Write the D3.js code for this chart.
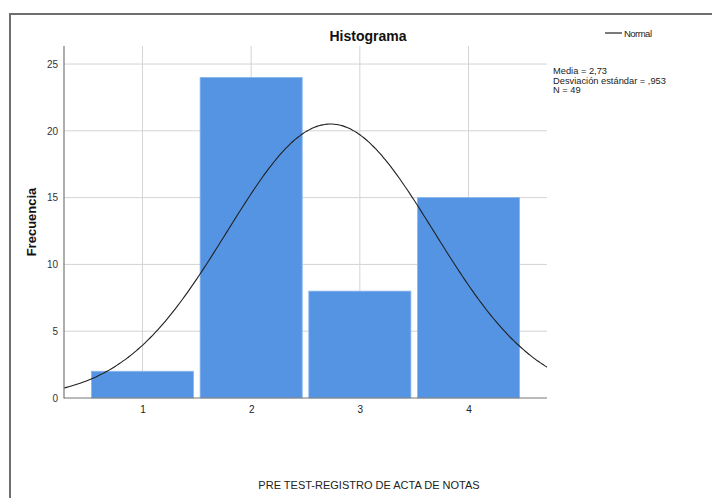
<!DOCTYPE html>
<html>
<head>
<meta charset="utf-8">
<script src="https://cdn.jsdelivr.net/npm/d3@7"></script>
<style>
  html, body { margin: 0; padding: 0; background: #fff; }
  svg { display: block; font-family: "Liberation Sans", Arial, sans-serif; }
</style>
</head>
<body>
<svg id="chart" width="712" height="498"></svg>
<script>
// Histogram data: score categories and their frequencies
const categories = [1, 2, 3, 4];
const frequencies = [2, 24, 8, 15];
const yTicks = [0, 5, 10, 15, 20, 25];
const statsLines = ["Media = 2,73", "Desviación estándar = ,953", "N = 49"];
const mean = 2.73;
const stdDev = 0.953;
const n = 49;

const svg = d3.select("#chart");

// Outer frame
svg.append("path")
  .attr("d", "M10,720 L10,14 L720,14")
  .attr("fill", "none")
  .attr("stroke", "#6e6e6e")
  .attr("stroke-width", 2);

const x = d3.scaleLinear().domain([0.278, 4.722]).range([64, 547]);
const y = d3.scaleLinear().domain([0, 26.35]).range([398, 46]);

// Gridlines
svg.append("g").selectAll("line").data(yTicks.filter(d => d > 0)).join("line")
  .attr("x1", 64).attr("x2", 547)
  .attr("y1", d => y(d)).attr("y2", d => y(d))
  .attr("stroke", "#d4d4d4").attr("stroke-width", 1);
svg.append("g").selectAll("line").data(categories).join("line")
  .attr("x1", d => x(d)).attr("x2", d => x(d))
  .attr("y1", 46).attr("y2", 398)
  .attr("stroke", "#d4d4d4").attr("stroke-width", 1);

// Bars
const inset = 3.3;
svg.append("g").selectAll("rect").data(categories).join("rect")
  .attr("x", d => x(d - 0.5) + inset)
  .attr("width", d => x(d + 0.5) - x(d - 0.5) - 2 * inset)
  .attr("y", (d, i) => y(frequencies[i]))
  .attr("height", (d, i) => y(0) - y(frequencies[i]))
  .attr("fill", "#5594e3")
  .attr("stroke", "#8ab6ee")
  .attr("stroke-width", 0.8);

// Normal curve scaled to counts (bin width 1)
const pdf = v => n * Math.exp(-0.5 * ((v - mean) / stdDev) ** 2) / (stdDev * Math.sqrt(2 * Math.PI));
const curvePts = d3.range(0, 201).map(i => {
  const v = x.domain()[0] + (x.domain()[1] - x.domain()[0]) * i / 200;
  return [v, pdf(v)];
});
svg.append("path")
  .datum(curvePts)
  .attr("d", d3.line().x(d => x(d[0])).y(d => y(d[1])).curve(d3.curveBasis))
  .attr("fill", "none")
  .attr("stroke", "#222")
  .attr("stroke-width", 1.1);

// Axes
const yAxis = d3.axisLeft(y).tickValues(yTicks).tickSize(0).tickPadding(6);
const gy = svg.append("g").attr("transform", "translate(64,0)").call(yAxis);
gy.select(".domain").remove();
gy.selectAll("text").attr("font-size", 10).attr("fill", "#333")
  .attr("font-family", "Liberation Sans, Arial, sans-serif");

const xAxis = d3.axisBottom(x).tickValues(categories).tickSize(0).tickPadding(8).tickFormat(d3.format("d"));
const gx = svg.append("g").attr("transform", "translate(0,398)").call(xAxis);
gx.select(".domain").remove();
gx.selectAll("text").attr("font-size", 10).attr("fill", "#222")
  .attr("font-family", "Liberation Sans, Arial, sans-serif");

svg.append("line").attr("x1", 64).attr("x2", 64).attr("y1", 46).attr("y2", 398.5)
  .attr("stroke", "#777").attr("stroke-width", 1.2);
svg.append("line").attr("x1", 64).attr("x2", 547).attr("y1", 398).attr("y2", 398)
  .attr("stroke", "#777").attr("stroke-width", 1.2);

// Title
svg.append("text").attr("x", 368).attr("y", 41).attr("text-anchor", "middle")
  .attr("font-size", 14).attr("font-weight", "bold").attr("fill", "#111")
  .text("Histograma");

// Axis titles
svg.append("text")
  .attr("transform", "translate(36,222) rotate(-90)")
  .attr("text-anchor", "middle")
  .attr("font-size", 13).attr("font-weight", "bold").attr("fill", "#111")
  .text("Frecuencia");
svg.append("text").attr("x", 369).attr("y", 489).attr("text-anchor", "middle")
  .attr("font-size", 11).attr("fill", "#222")
  .text("PRE TEST-REGISTRO DE ACTA DE NOTAS");

// Legend
svg.append("line").attr("x1", 605).attr("x2", 622).attr("y1", 33).attr("y2", 33)
  .attr("stroke", "#222").attr("stroke-width", 1.2);
svg.append("text").attr("x", 624).attr("y", 36.5).attr("font-size", 9.5).attr("fill", "#222")
  .attr("textLength", 28).text("Normal");

// Summary statistics
svg.append("g").selectAll("text").data(statsLines).join("text")
  .attr("x", 553).attr("y", (d, i) => 74 + i * 9.5)
  .attr("font-size", 9.3).attr("fill", "#222")
  .text(d => d);
</script>
</body>
</html>
